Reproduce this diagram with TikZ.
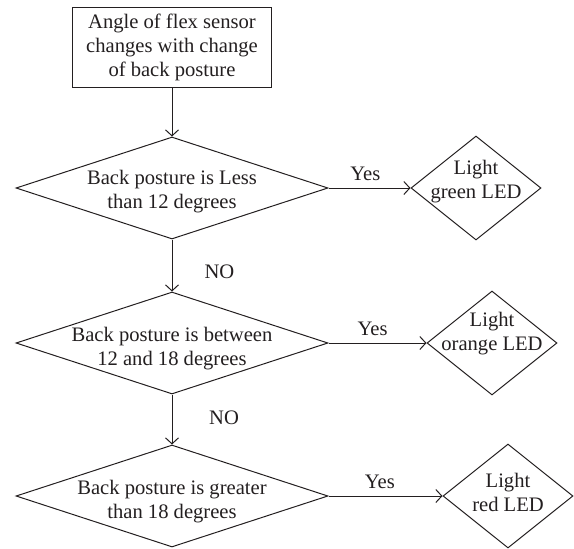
\documentclass[tikz,border=0pt]{standalone}
\usepackage{fontspec}
\setmainfont{Liberation Serif}
\usetikzlibrary{shapes.geometric,arrows.meta,positioning}
\definecolor{ink}{HTML}{231f20}

\begin{document}
\begin{tikzpicture}[x=0.5pt,y=-0.5pt,font=\fontsize{10.3}{12}\selectfont,
  text=ink, draw=ink, line width=0.5pt,
  stepbox/.style={draw, rectangle, minimum width=99.5pt, minimum height=40pt,
    inner sep=0pt, align=center},
  check/.style={draw, diamond, minimum width=156pt, minimum height=51pt, inner sep=0pt},
  ledbox/.style={draw, diamond, minimum width=65pt, minimum height=52pt, inner sep=0pt},
  flow/.style={-{Straight Barb[length=3pt,width=6.5pt]}}]
\newcommand{\twoline}[3]{\makebox[0pt]{\raisebox{#1}[0pt][0pt]{%
  \begin{tabular}[b]{@{}c@{}}#2\\#3\end{tabular}}}}
\useasboundingbox (0,0) rectangle (574,548);
% start and the three checks
\node[stepbox] (sense) at (172,47)
  {Angle of flex sensor\\changes with change\\of back posture};
\node[check] (less) at (172,188) {\twoline{-10pt}{Back posture is Less}{than 12 degrees}};
\node[check] (between) at (172,343) {\twoline{-11pt}{Back posture is between}{12 and 18 degrees}};
\node[check] (greater) at (172,496) {\twoline{-11pt}{Back posture is greater}{than 18 degrees}};
% LEDs
\node[ledbox] (green) at (476,188) {\twoline{-5pt}{Light}{green LED}};
\node[ledbox] (orange) at (492,343) {\twoline{-3.5pt}{Light}{orange LED}};
\node[ledbox] (red) at (508,496) {\twoline{-7.5pt}{Light}{red LED}};
% connectors
\draw[flow] (sense.south) -- (less.north);
\draw[flow] (less.south) -- node[right=12.7pt, pos=0.62] {NO} (between.north);
\draw[flow] (between.south) -- node[right=15pt, pos=0.47] {NO} (greater.north);
\draw[flow] (less.east) -- node[above, pos=0.45] {Yes} (green.west);
\draw[flow] (between.east) -- node[above, pos=0.45] {Yes} (orange.west);
\draw[flow] (greater.east) -- node[above, pos=0.45] {Yes} (red.west);
\end{tikzpicture}
\end{document}
